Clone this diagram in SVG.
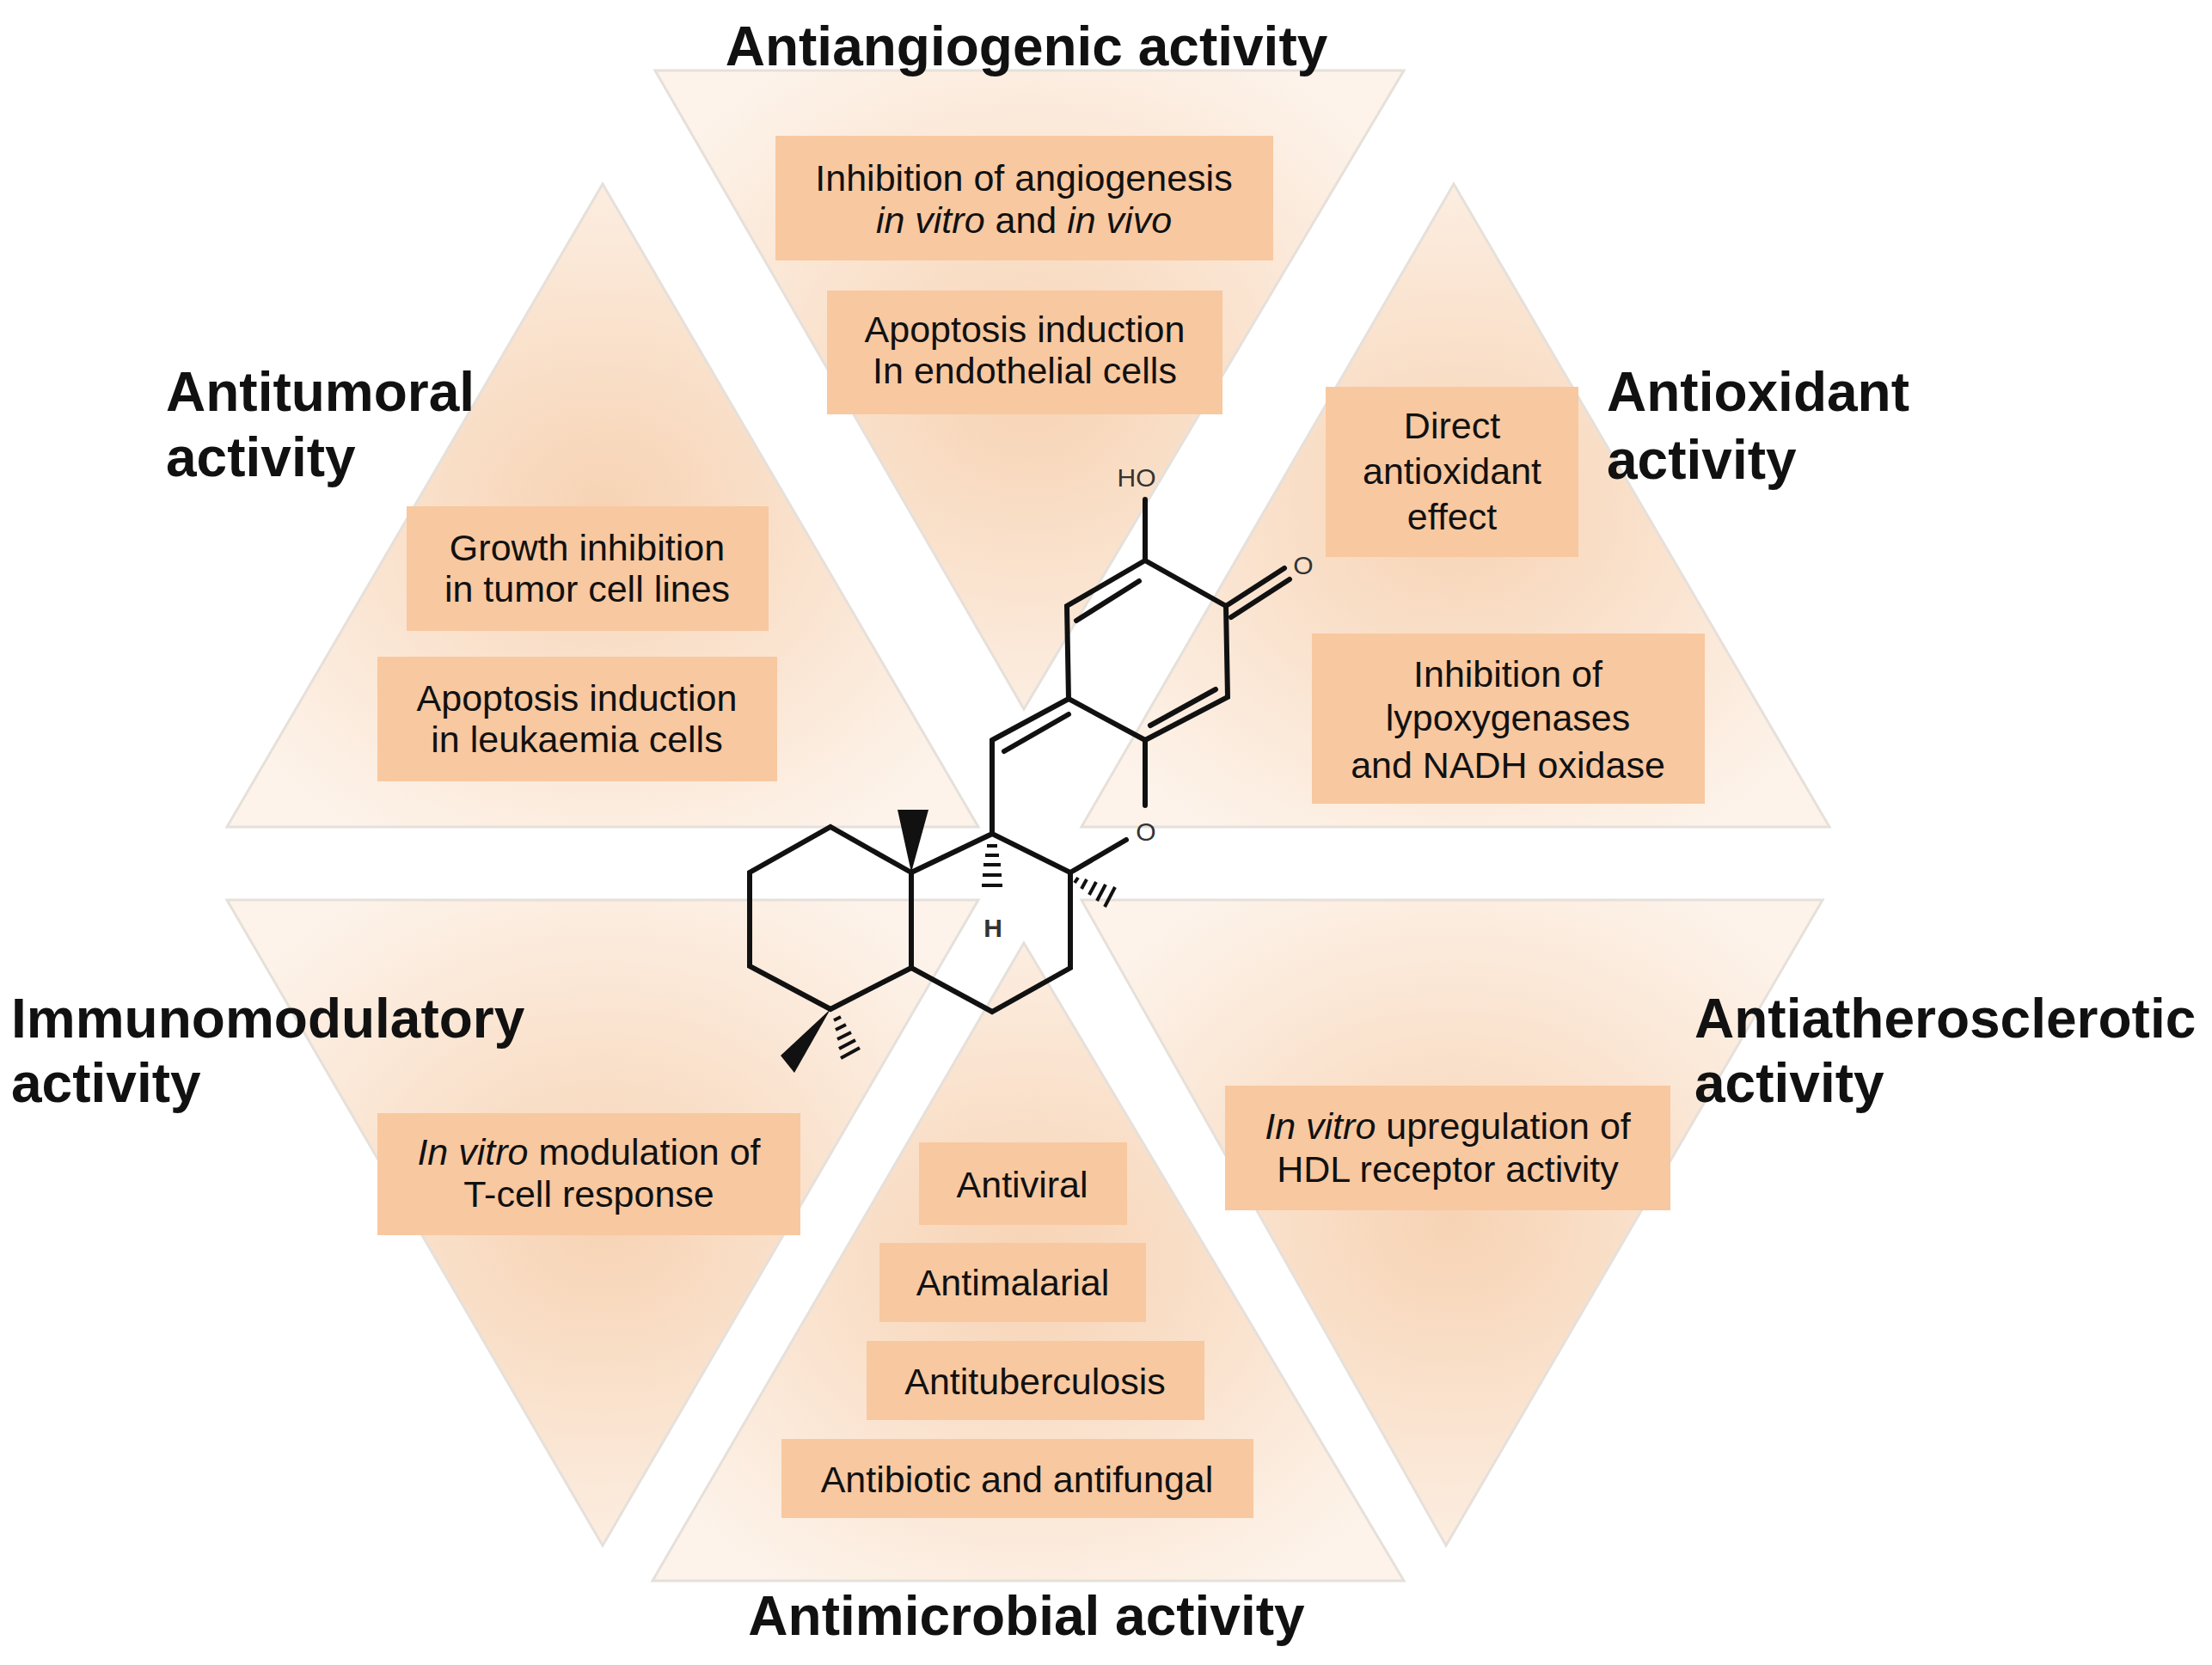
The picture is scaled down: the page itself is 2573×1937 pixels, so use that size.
<svg xmlns="http://www.w3.org/2000/svg" width="2573" height="1937" viewBox="0 0 2573 1937">
<style>
.t{font-family:"Liberation Sans",Arial,sans-serif;font-size:64px;font-weight:bold;fill:#111}
.b{font-family:"Liberation Sans",Arial,sans-serif;font-size:43px;fill:#111;text-anchor:middle}
.box{fill:#f8c8a0}
.tri{fill:url(#g);stroke:#e6e0da;stroke-width:3}
.m{stroke:#111;stroke-width:6;fill:none;stroke-linecap:round}
.ml{font-family:"Liberation Sans",Arial,sans-serif;font-size:30px;fill:#333;text-anchor:middle}
</style>
<defs>
<radialGradient id="g" cx="0.5" cy="0.5" r="0.6">
<stop offset="0" stop-color="#f7d3b4"/>
<stop offset="1" stop-color="#fdf3ea"/>
</radialGradient>
</defs>
<rect width="2573" height="1937" fill="#fff"/>
<g id="triangles">
<polygon class="tri" points="762,82 1633,82 1191,825"/>
<polygon class="tri" points="701,214 1138,962 264,962"/>
<polygon class="tri" points="1691,214 2128,962 1258,962"/>
<polygon class="tri" points="264,1047 1138,1047 701,1798"/>
<polygon class="tri" points="1258,1047 2120,1047 1682,1798"/>
<polygon class="tri" points="1191,1097 1633,1839 759,1839"/>
</g>
<g id="antiangiogenic">
<text class="t" x="1194" y="76" text-anchor="middle">Antiangiogenic activity</text>
<rect class="box" x="902" y="158" width="579" height="145"/>
<text class="b" x="1191" y="222">Inhibition of angiogenesis</text>
<text class="b" x="1191" y="271"><tspan font-style="italic">in vitro</tspan> and <tspan font-style="italic">in vivo</tspan></text>
<rect class="box" x="962" y="338" width="460" height="144"/>
<text class="b" x="1192" y="398">Apoptosis induction</text>
<text class="b" x="1192" y="446">In endothelial cells</text>
</g>
<g id="antitumoral">
<text class="t" x="193" y="478">Antitumoral</text>
<text class="t" x="193" y="554">activity</text>
<rect class="box" x="473" y="589" width="421" height="145"/>
<text class="b" x="683" y="652">Growth inhibition</text>
<text class="b" x="683" y="700">in tumor cell lines</text>
<rect class="box" x="439" y="764" width="465" height="145"/>
<text class="b" x="671" y="827">Apoptosis induction</text>
<text class="b" x="671" y="875">in leukaemia cells</text>
</g>
<g id="antioxidant">
<text class="t" x="1869" y="478">Antioxidant</text>
<text class="t" x="1869" y="557">activity</text>
<rect class="box" x="1542" y="450" width="294" height="198"/>
<text class="b" x="1689" y="510">Direct</text>
<text class="b" x="1689" y="563">antioxidant</text>
<text class="b" x="1689" y="616">effect</text>
<rect class="box" x="1526" y="737" width="457" height="198"/>
<text class="b" x="1754" y="799">Inhibition of</text>
<text class="b" x="1754" y="850">lypoxygenases</text>
<text class="b" x="1754" y="905">and NADH oxidase</text>
</g>
<g id="immunomodulatory">
<text class="t" x="13" y="1207">Immunomodulatory</text>
<text class="t" x="13" y="1282">activity</text>
<rect class="box" x="439" y="1295" width="492" height="142"/>
<text class="b" x="685" y="1355"><tspan font-style="italic">In vitro</tspan> modulation of</text>
<text class="b" x="685" y="1404">T-cell response</text>
</g>
<g id="antiatherosclerotic">
<text class="t" x="1971" y="1207">Antiatherosclerotic</text>
<text class="t" x="1971" y="1282">activity</text>
<rect class="box" x="1425" y="1263" width="518" height="145"/>
<text class="b" x="1684" y="1325"><tspan font-style="italic">In vitro</tspan> upregulation of</text>
<text class="b" x="1684" y="1375">HDL receptor activity</text>
</g>
<g id="antimicrobial">
<text class="t" x="1194" y="1902" text-anchor="middle">Antimicrobial activity</text>
<rect class="box" x="1069" y="1329" width="242" height="96"/>
<text class="b" x="1189" y="1393">Antiviral</text>
<rect class="box" x="1023" y="1446" width="310" height="92"/>
<text class="b" x="1178" y="1507">Antimalarial</text>
<rect class="box" x="1008" y="1560" width="393" height="92"/>
<text class="b" x="1204" y="1622">Antituberculosis</text>
<rect class="box" x="909" y="1674" width="549" height="92"/>
<text class="b" x="1183" y="1736">Antibiotic and antifungal</text>
</g>
<g id="molecule">
<polyline class="m" points="1332,581 1332,652 1426,705 1428,811 1332,861 1243,813 1241,705 1332,652"/>
<line class="m" x1="1252" y1="722" x2="1325" y2="676"/>
<line class="m" x1="1338" y1="844" x2="1414" y2="802"/>
<line class="m" x1="1426" y1="705" x2="1494" y2="661"/>
<line class="m" x1="1432" y1="718" x2="1500" y2="674"/>
<line class="m" x1="1243" y1="813" x2="1154" y2="861"/>
<line class="m" x1="1168" y1="874" x2="1243" y2="831"/>
<line class="m" x1="1332" y1="861" x2="1332" y2="937"/>
<line class="m" x1="1310" y1="977" x2="1245" y2="1015"/>
<polygon class="m" points="1154,861 1154,970 1245,1015 1245,1126 1154,1177 1060,1126 1060,1015 1154,970"/>
<polyline class="m" points="1060,1015 966,962 872,1015 872,1124 966,1174 1060,1126"/>
<polygon points="1060,1015 1044,942 1080,942" fill="#111"/>
<polygon points="966,1174 908,1228 924,1248" fill="#111"/>
<g stroke="#111" stroke-width="4">
<line x1="1148" y1="984" x2="1160" y2="984"/><line x1="1146" y1="995" x2="1162" y2="995"/><line x1="1144" y1="1006" x2="1164" y2="1006"/><line x1="1143" y1="1018" x2="1165" y2="1018"/><line x1="1142" y1="1030" x2="1166" y2="1030"/>
<line x1="1254" y1="1021" x2="1250" y2="1027"/><line x1="1264" y1="1023" x2="1258" y2="1034"/><line x1="1275" y1="1026" x2="1267" y2="1041"/><line x1="1286" y1="1029" x2="1276" y2="1048"/><line x1="1297" y1="1032" x2="1285" y2="1055"/>
<line x1="970" y1="1187" x2="978" y2="1183"/><line x1="972" y1="1198" x2="984" y2="1192"/><line x1="974" y1="1209" x2="990" y2="1201"/><line x1="976" y1="1220" x2="995" y2="1210"/><line x1="978" y1="1231" x2="1000" y2="1219"/>
</g>
<text class="ml" x="1322" y="566">HO</text>
<text class="ml" x="1516" y="668">O</text>
<text class="ml" x="1333" y="978">O</text>
<text class="ml" x="1155" y="1090" font-weight="bold" fill="#1a3550">H</text>
</g>
</svg>
